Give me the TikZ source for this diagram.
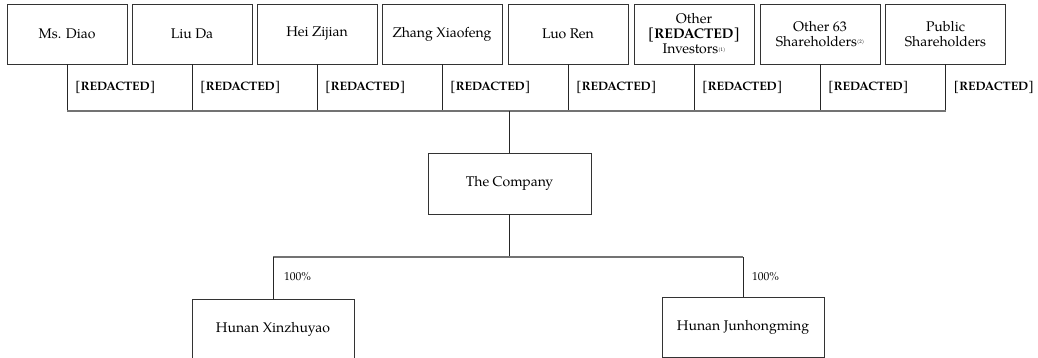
\documentclass[tikz,border=0pt]{standalone}
\usepackage{fontspec}
\setmainfont{TeX Gyre Pagella}
\begin{document}
\begin{tikzpicture}[x=1pt,y=-1pt,
  box/.style={draw=black!80,line width=0.9pt,inner sep=0pt,align=center,
    font=\fontsize{14}{15}\selectfont},
  topbox/.style={box,minimum width=120pt,minimum height=60pt},
  subbox/.style={box,minimum width=162pt,minimum height=60pt},
  redlab/.style={anchor=west,inner sep=0pt,font=\fontsize{12.2}{13}\selectfont\bfseries},
  pctlab/.style={anchor=west,inner sep=0pt,font=\fontsize{11.5}{12}\selectfont},
  vline/.style={draw=black!85,line width=0.9pt},
  hline/.style={draw=black!55,line width=1.1pt}]
\useasboundingbox (0,0) rectangle (1038,358);
\newcommand{\fnmark}[1]{\raisebox{0.4ex}{\fontsize{5}{5}\selectfont(#1)}}
% top boxes
\node[topbox] (t1) at (67,34) {Ms. Diao};
\node[topbox] (t2) at (192,34) {Liu Da};
\node[topbox] (t3) at (317,34) {Hei Zijian};
\node[topbox] (t4) at (442,34) {Zhang Xiaofeng};
\node[topbox] (t5) at (568,34) {Luo Ren};
\node[topbox] (t6) at (694,34) {Other\\\textbf{[REDACTED]}\\Investors\fnmark{1}};
\node[topbox] (t7) at (820,34) {Other 63\\Shareholders\fnmark{2}};
\node[topbox] (t8) at (945.5,34) {Public\\Shareholders};
\coordinate (h1) at (0,111);
\coordinate (h2) at (0,257);
% company and subsidiaries
\node[box,minimum width=163pt,minimum height=61pt] (c) at (509.5,183.5) {The Company};
\node[subbox] (s1) at (273,329) {Hunan Xinzhuyao};
\node[subbox] (s2) at (743,327) {Hunan Junhongming};
% connectors from shareholders
\foreach \i in {1,...,8}{
  \draw[vline] (t\i.south) -- (t\i.south |- h1);
  \node[redlab] (r\i) at ([xshift=8pt]t\i.south |- 0,87) {[REDACTED]};
}
\draw[hline] (t1.south |- h1) -- (t8.south |- h1);
\draw[vline] (c.north) -- (c.north |- h1);
% connectors to subsidiaries
\draw[vline] (c.south) -- (c.south |- h2);
\draw[hline] (s1.north |- h2) -- (s2.north |- h2);
\draw[vline] (s1.north |- h2) -- (s1.north);
\draw[vline] (s2.north |- h2) -- (s2.north);
\node[pctlab] (p1) at (284,277) {100\%};
\node[pctlab] (p2) at (752,277) {100\%};
\end{tikzpicture}
\end{document}
